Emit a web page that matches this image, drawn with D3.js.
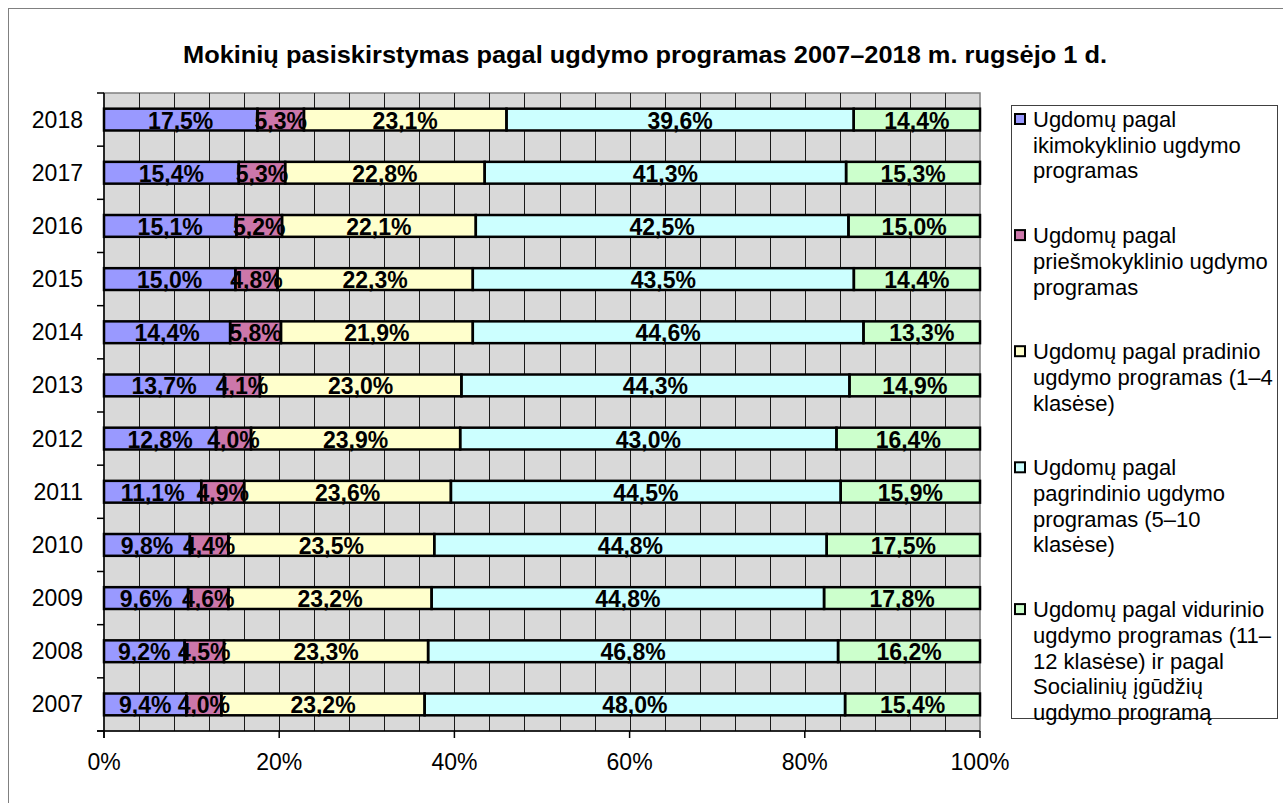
<!DOCTYPE html>
<html>
<head>
<meta charset="utf-8">
<script src="https://cdn.jsdelivr.net/npm/d3@7"></script>
<style>
  body { margin: 0; background: #fff; }
  text { font-family: "Liberation Sans", Arial, sans-serif; }
</style>
</head>
<body>
<div class="canvas"></div>
<script>
// Data (percent of pupils per programme)
const years = [2018, 2017, 2016, 2015, 2014, 2013, 2012, 2011, 2010, 2009, 2008, 2007];
const preschool   = [17.5, 15.4, 15.1, 15.0, 14.4, 13.7, 12.8, 11.1, 9.8, 9.6, 9.2, 9.4];
const preprimary  = [5.3, 5.3, 5.2, 4.8, 5.8, 4.1, 4.0, 4.9, 4.4, 4.6, 4.5, 4.0];
const primary     = [23.1, 22.8, 22.1, 22.3, 21.9, 23.0, 23.9, 23.6, 23.5, 23.2, 23.3, 23.2];
const basic       = [39.6, 41.3, 42.5, 43.5, 44.6, 44.3, 43.0, 44.5, 44.8, 44.8, 46.8, 48.0];
const secondary   = [14.4, 15.3, 15.0, 14.4, 13.3, 14.9, 16.4, 15.9, 17.5, 17.8, 16.2, 15.4];

const seriesKeys = ['preschool', 'preprimary', 'primary', 'basic', 'secondary'];
const seriesValues = [preschool, preprimary, primary, basic, secondary];
const seriesColors = ['#9999ff', '#cc77aa', '#ffffcc', '#ccffff', '#ccffcc'];
const legendLabels = [
    ['Ugdomų pagal', 'ikimokyklinio ugdymo', 'programas'],
    ['Ugdomų pagal', 'priešmokyklinio ugdymo', 'programas'],
    ['Ugdomų pagal pradinio', 'ugdymo programas (1–4', 'klasėse)'],
    ['Ugdomų pagal', 'pagrindinio ugdymo', 'programas (5–10', 'klasėse)'],
    ['Ugdomų pagal vidurinio', 'ugdymo programas (11–', '12 klasėse) ir pagal', 'Socialinių įgūdžių', 'ugdymo programą']
];
const xTicks = [0, 0.2, 0.4, 0.6, 0.8, 1];
const title = 'Mokinių pasiskirstymas pagal ugdymo programas 2007–2018 m. rugsėjo 1 d.';

// building rows for d3.stack
const rows = years.map((y, i) => {
    const row = {year: y};
    seriesKeys.forEach((k, j) => row[k] = seriesValues[j][i]);
    return row;
});

// Chart dimensions
const W = 1283, H = 803;
const plot = {left: 104, right: 980, top: 93, bottom: 731};

const svg = d3.select('.canvas')
    .append('svg')
    .attr('width', W)
    .attr('height', H);

// outer frame
svg.append('rect')
    .attr('x', 8.5).attr('y', 8.5)
    .attr('width', W).attr('height', H)
    .attr('fill', 'none').attr('stroke', '#808080');

// title
svg.append('text')
    .attr('x', 645).attr('y', 63)
    .attr('text-anchor', 'middle')
    .attr('font-family', '"Liberation Sans Narrow", "Liberation Sans", Arial, sans-serif')
    .attr('font-weight', 'bold')
    .attr('font-size', 24)
    .attr('textLength', 924)
    .attr('lengthAdjust', 'spacingAndGlyphs')
    .text(title);

const x = d3.scaleLinear().domain([0, 1]).range([plot.left, plot.right]);
const y = d3.scaleBand().domain(years).range([plot.top, plot.bottom]).padding(0);
const barH = y.bandwidth() * 0.41;

// plot background
svg.append('rect')
    .attr('x', plot.left).attr('y', plot.top)
    .attr('width', plot.right - plot.left).attr('height', plot.bottom - plot.top)
    .attr('fill', '#d9d9d9').attr('stroke', '#808080').attr('stroke-width', 1.5);

// vertical gridlines every 4%
svg.append('g')
    .selectAll('line')
    .data(d3.range(1, 25).map(d => d / 25))
    .join('line')
    .attr('x1', d => Math.round(x(d)) + 0.5).attr('x2', d => Math.round(x(d)) + 0.5)
    .attr('y1', plot.top).attr('y2', plot.bottom)
    .attr('stroke', '#1a1a1a').attr('stroke-width', 1);

// stacking, expanded to 100%
const stack = d3.stack().keys(seriesKeys).offset(d3.stackOffsetExpand);
const stacked = stack(rows);

const fmt = v => d3.format('.1f')(v).replace('.', ',') + '%';

// fills
const fills = svg.append('g');
stacked.forEach((s, j) => {
    fills.selectAll(null)
        .data(s)
        .join('rect')
        .attr('x', d => x(d[0]))
        .attr('y', d => y(d.data.year) + (y.bandwidth() - barH) / 2)
        .attr('width', d => x(d[1]) - x(d[0]))
        .attr('height', barH)
        .attr('fill', seriesColors[j]);
});

// value labels
const labels = svg.append('g')
    .attr('font-weight', 'bold')
    .attr('font-size', 23)
    .attr('text-anchor', 'middle');
stacked.forEach((s, j) => {
    labels.selectAll(null)
        .data(s)
        .join('text')
        .attr('x', d => (x(d[0]) + x(d[1])) / 2)
        .attr('y', d => y(d.data.year) + y.bandwidth() / 2 + 9)
        .text(d => fmt(d.data[s.key]));
});

// bar borders drawn on top
const borders = svg.append('g');
stacked.forEach(s => {
    borders.selectAll(null)
        .data(s)
        .join('rect')
        .attr('x', d => x(d[0]))
        .attr('y', d => y(d.data.year) + (y.bandwidth() - barH) / 2)
        .attr('width', d => x(d[1]) - x(d[0]))
        .attr('height', barH)
        .attr('fill', 'none')
        .attr('stroke', '#000')
        .attr('stroke-width', 2.5);
});

// y axis
const yAxis = svg.append('g');
yAxis.append('line')
    .attr('x1', plot.left).attr('x2', plot.left)
    .attr('y1', plot.top).attr('y2', plot.bottom + 7)
    .attr('stroke', '#000').attr('stroke-width', 1.5);
yAxis.selectAll('line.tick')
    .data(years.concat([null]))
    .join('line')
    .attr('class', 'tick')
    .attr('x1', plot.left - 7).attr('x2', plot.left)
    .attr('y1', (d, i) => plot.top + i * y.step())
    .attr('y2', (d, i) => plot.top + i * y.step())
    .attr('stroke', '#000').attr('stroke-width', 1.5);
yAxis.selectAll('text')
    .data(years)
    .join('text')
    .attr('x', 83)
    .attr('y', d => y(d) + y.bandwidth() / 2 + 8)
    .attr('text-anchor', 'end')
    .attr('font-size', 23)
    .text(d => d);

// x axis
const xAxis = svg.append('g');
xAxis.append('line')
    .attr('x1', plot.left - 7).attr('x2', plot.right)
    .attr('y1', plot.bottom).attr('y2', plot.bottom)
    .attr('stroke', '#000').attr('stroke-width', 1.5);
xAxis.selectAll('line.tick')
    .data(xTicks)
    .join('line')
    .attr('class', 'tick')
    .attr('x1', d => x(d)).attr('x2', d => x(d))
    .attr('y1', plot.bottom).attr('y2', plot.bottom + 7)
    .attr('stroke', '#000').attr('stroke-width', 1.5);
xAxis.selectAll('text')
    .data(xTicks)
    .join('text')
    .attr('x', d => x(d))
    .attr('y', 770)
    .attr('text-anchor', 'middle')
    .attr('font-size', 23)
    .text(d => d3.format('.0%')(d));

// legend
const legend = svg.append('g');
legend.append('rect')
    .attr('x', 1011.5).attr('y', 105.5)
    .attr('width', 266).attr('height', 613)
    .attr('fill', '#fff').attr('stroke', '#404040').attr('stroke-width', 1);

const lineH = 25.7, gap = 39;
let ly = 119;
legendLabels.forEach((lines, j) => {
    legend.append('rect')
        .attr('x', 1015).attr('y', ly - 5)
        .attr('width', 10).attr('height', 10)
        .attr('fill', seriesColors[j]).attr('stroke', '#000').attr('stroke-width', 2);
    const t = legend.append('text')
        .attr('font-size', 22);
    lines.forEach((l, k) => {
        t.append('tspan')
            .attr('x', 1033)
            .attr('y', ly + 8 + k * lineH)
            .text(l);
    });
    ly += lines.length * lineH + gap;
});
</script>
</body>
</html>
